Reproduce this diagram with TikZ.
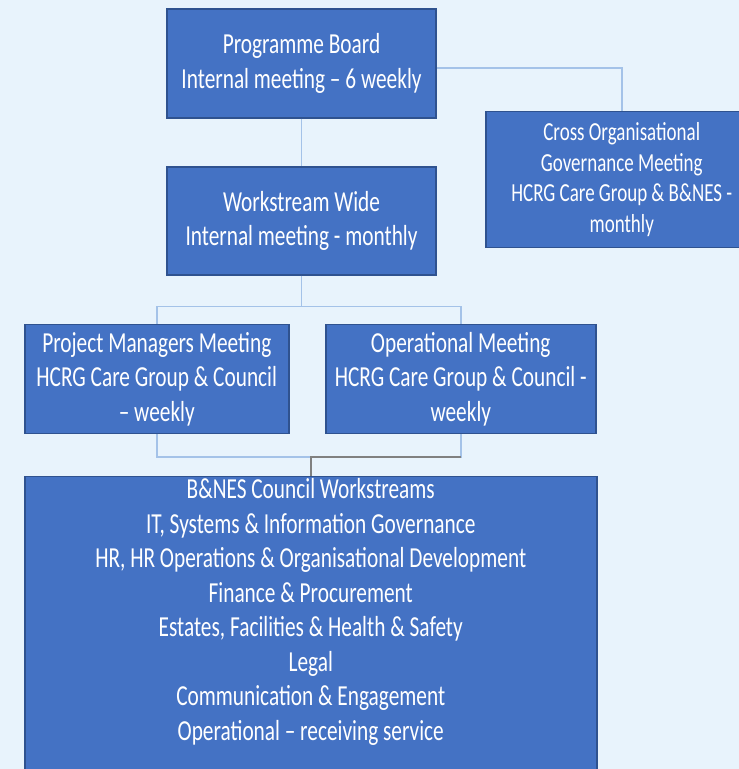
\documentclass[tikz,border=0pt]{standalone}
\usepackage{fontspec}
\setmainfont{Carlito}
\newfontfamily\boxfont{Carlito}[FakeStretch=0.735]
\newfontfamily\crossfont{Carlito}[FakeStretch=0.73]
\usetikzlibrary{positioning}
\definecolor{pagebg}{HTML}{E8F3FC}
\definecolor{boxfill}{HTML}{4472C4}
\definecolor{boxline}{HTML}{2F528F}
\definecolor{linkline}{HTML}{A4C2E8}
\definecolor{joinline}{HTML}{808080}

\begin{document}
\begin{tikzpicture}[x=1pt, y=1pt,
  mtg/.style={draw=boxline, line width=1.5pt, fill=boxfill, text=white, align=center, inner sep=0pt, font=\boxfont\fontsize{29}{34.5}\selectfont},
  small/.style={font=\crossfont\fontsize{26}{30.5}\selectfont},
  link/.style={draw=linkline, line width=1.5pt},
  mergeline/.style={draw=joinline, line width=1.5pt}]
\fill[pagebg] (0,0) rectangle (739,769);
\useasboundingbox (0,0) rectangle (739,769);
\node[mtg, minimum width=269, minimum height=109] (board) at (301.5,705.5) {Programme Board\\Internal meeting – 6 weekly};
\node[mtg, minimum width=269, minimum height=108, below=47.5pt of board] (wide) {Workstream Wide\\Internal meeting - monthly};
\node[mtg, small, minimum width=272, minimum height=136, anchor=north west] (cross) at (485,658) {Cross Organisational\\Governance Meeting\\HCRG Care Group \& B\&NES -\\monthly};
\node[mtg, minimum width=264, minimum height=109, anchor=north west] (pm) at (24,445) {Project Managers Meeting\\HCRG Care Group \& Council\\– weekly};
\node[mtg, minimum width=270, minimum height=109, right=35.5pt of pm] (ops) {Operational Meeting\\HCRG Care Group \& Council -\\weekly};
\node[mtg, minimum width=572, minimum height=320, anchor=north west] (wsbox) at (24,293) {};
\node[mtg, draw=none, fill=none, anchor=north, yshift=-2pt] (wstext) at (wsbox.north) {B\&NES Council Workstreams\\IT, Systems \& Information Governance\\HR, HR Operations \& Organisational Development\\Finance \& Procurement\\Estates, Facilities \& Health \& Safety\\Legal\\Communication \& Engagement\\Operational – receiving service};
\coordinate (split) at ([yshift=-31pt]wide.south);
\coordinate (merge) at ([yshift=19pt]wsbox.north);
\draw[link] ([yshift=-4.5pt]board.east) -| (cross.north);
\draw[link] (board.south) -- (wide.north);
\draw[link] (wide.south) -- (split);
\draw[link] (pm.north) |- (split) -| (ops.north);
\draw[link] (pm.south) |- (merge) -| (ops.south);
\draw[mergeline] (ops.south |- merge) -- (merge) -- (wsbox.north);
\end{tikzpicture}
\end{document}
